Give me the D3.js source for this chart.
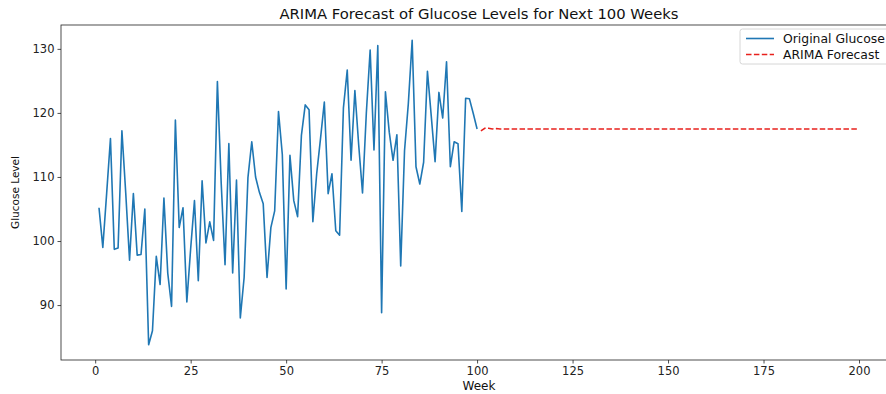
<!DOCTYPE html>
<html>
<head>
<meta charset="utf-8">
<script src="https://cdn.jsdelivr.net/npm/d3@7"></script>
<style>
  body { margin: 0; background: #fff; }
  svg { font-family: "DejaVu Sans", sans-serif; }
</style>
</head>
<body>
<svg id="chart" width="886" height="394"></svg>
<script>
// weekly glucose readings, weeks 1..100
const glucose = [
  105.2, 99.0, 107.4, 116.0, 98.7, 98.9, 117.2, 107.5, 97.0, 107.4,
  97.8, 97.9, 105.0, 83.8, 86.0, 97.6, 93.2, 106.7, 95.0, 89.8,
  118.9, 102.1, 105.2, 90.5, 98.8, 106.3, 93.8, 109.4, 99.7, 103.0,
  100.1, 124.9, 109.0, 96.3, 115.2, 95.0, 109.5, 88.0, 94.3, 109.9,
  115.5, 110.0, 107.6, 105.8, 94.3, 102.1, 104.7, 120.2, 113.5, 92.5,
  113.4, 106.3, 103.8, 116.5, 121.25, 120.5, 103.0, 110.5, 116.0, 121.7,
  107.4, 110.5, 101.6, 100.9, 120.8, 126.7, 112.6, 123.5, 115.0, 107.5,
  120.0, 129.8, 114.2, 130.5, 88.8, 123.3, 117.0, 112.6, 116.6, 96.1,
  114.1, 121.5, 131.35, 111.6, 108.9, 112.3, 126.5, 119.5, 112.4, 123.2,
  119.2, 128.0, 111.6, 115.5, 115.2, 104.6, 122.3, 122.2, 119.9, 117.5
];
// ARIMA forecast, weeks 101..200
const forecast = [
  117.2, 117.6, 117.6, 117.5, 117.55, 117.5, 117.5, 117.5, 117.5, 117.5,
  117.5, 117.5, 117.5, 117.5, 117.5, 117.5, 117.5, 117.5, 117.5, 117.5,
  117.5, 117.5, 117.5, 117.5, 117.5, 117.5, 117.5, 117.5, 117.5, 117.5,
  117.5, 117.5, 117.5, 117.5, 117.5, 117.5, 117.5, 117.5, 117.5, 117.5,
  117.5, 117.5, 117.5, 117.5, 117.5, 117.5, 117.5, 117.5, 117.5, 117.5,
  117.5, 117.5, 117.5, 117.5, 117.5, 117.5, 117.5, 117.5, 117.5, 117.5,
  117.5, 117.5, 117.5, 117.5, 117.5, 117.5, 117.5, 117.5, 117.5, 117.5,
  117.5, 117.5, 117.5, 117.5, 117.5, 117.5, 117.5, 117.5, 117.5, 117.5,
  117.5, 117.5, 117.5, 117.5, 117.5, 117.5, 117.5, 117.5, 117.5, 117.5,
  117.5, 117.5, 117.5, 117.5, 117.5, 117.5, 117.5, 117.5, 117.5, 117.5
];
const xTicks = [0, 25, 50, 75, 100, 125, 150, 175, 200];
const yTicks = [90, 100, 110, 120, 130];
const seriesNames = ["Original Glucose", "ARIMA Forecast"];

const svg = d3.select("#chart");
const mLeft = 61, mRight = 897, mTop = 25, mBottom = 360;

const origData = glucose.map((v, i) => ({week: i + 1, value: v}));
const foreData = forecast.map((v, i) => ({week: glucose.length + i + 1, value: v}));
const all = origData.concat(foreData);

// matplotlib style 5% margins
const xExt = d3.extent(all, d => d.week), yExt = d3.extent(all, d => d.value);
const xPad = (xExt[1] - xExt[0]) * 0.05, yPad = (yExt[1] - yExt[0]) * 0.05;

const x = d3.scaleLinear().domain([xExt[0] - xPad, xExt[1] + xPad]).range([mLeft, mRight]);
const y = d3.scaleLinear().domain([yExt[0] - yPad, yExt[1] + yPad]).range([mBottom, mTop]);

const line = d3.line().x(d => x(d.week)).y(d => y(d.value));

svg.append("path")
  .datum(origData)
  .attr("d", line)
  .attr("fill", "none")
  .attr("stroke", "#1f77b4")
  .attr("stroke-width", 1.6)
  .attr("stroke-linejoin", "round");

svg.append("path")
  .datum(foreData)
  .attr("d", line)
  .attr("fill", "none")
  .attr("stroke", "#e8211c")
  .attr("stroke-width", 1.5)
  .attr("stroke-dasharray", "5.5,2.4");

// axes
const xAxis = svg.append("g")
  .attr("transform", "translate(0," + mBottom + ")")
  .call(d3.axisBottom(x).tickValues(xTicks).tickSize(3.5).tickPadding(3).tickFormat(d3.format("d")));
const yAxis = svg.append("g")
  .attr("transform", "translate(" + mLeft + ",0)")
  .call(d3.axisLeft(y).tickValues(yTicks).tickSize(3.5).tickPadding(3).tickFormat(d3.format("d")));

[xAxis, yAxis].forEach(g => {
  g.select(".domain").remove();
  g.selectAll("line").attr("stroke", "#222").attr("stroke-width", 0.8);
  g.selectAll("text").attr("fill", "#222").style("font-size", "11.5px").style("font-family", "DejaVu Sans, sans-serif");
});

// spines
svg.append("rect")
  .attr("x", mLeft).attr("y", mTop)
  .attr("width", mRight - mLeft).attr("height", mBottom - mTop)
  .attr("fill", "none").attr("stroke", "#222").attr("stroke-width", 0.8);

// labels
svg.append("text")
  .attr("x", (mLeft + mRight) / 2).attr("y", 19)
  .attr("text-anchor", "middle")
  .style("font-size", "14.8px").attr("fill", "#111")
  .text("ARIMA Forecast of Glucose Levels for Next 100 Weeks");

svg.append("text")
  .attr("x", (mLeft + mRight) / 2).attr("y", 390)
  .attr("text-anchor", "middle")
  .style("font-size", "12px").attr("fill", "#111")
  .text("Week");

svg.append("text")
  .attr("transform", "translate(19," + ((mTop + mBottom) / 2) + ") rotate(-90)")
  .attr("text-anchor", "middle")
  .style("font-size", "10.5px").attr("fill", "#111")
  .text("Glucose Level");

// legend
const legend = svg.append("g").attr("transform", "translate(740,29)");
legend.append("rect")
  .attr("x", 0).attr("y", 0).attr("width", 152).attr("height", 35).attr("rx", 2.5)
  .attr("fill", "#fff").attr("fill-opacity", 0.8)
  .attr("stroke", "#ccc").attr("stroke-width", 0.8);
const styles = [{c: "#1f77b4", dash: null}, {c: "#e8211c", dash: "5.5,2.4"}];
seriesNames.forEach((name, i) => {
  const yy = 9.5 + i * 16;
  legend.append("line")
    .attr("x1", 6).attr("x2", 34).attr("y1", yy).attr("y2", yy)
    .attr("stroke", styles[i].c).attr("stroke-width", 1.6)
    .attr("stroke-dasharray", styles[i].dash);
  legend.append("text")
    .attr("x", 43).attr("y", yy + 4)
    .style("font-size", "12.4px").attr("fill", "#111")
    .text(name);
});
</script>
</body>
</html>
